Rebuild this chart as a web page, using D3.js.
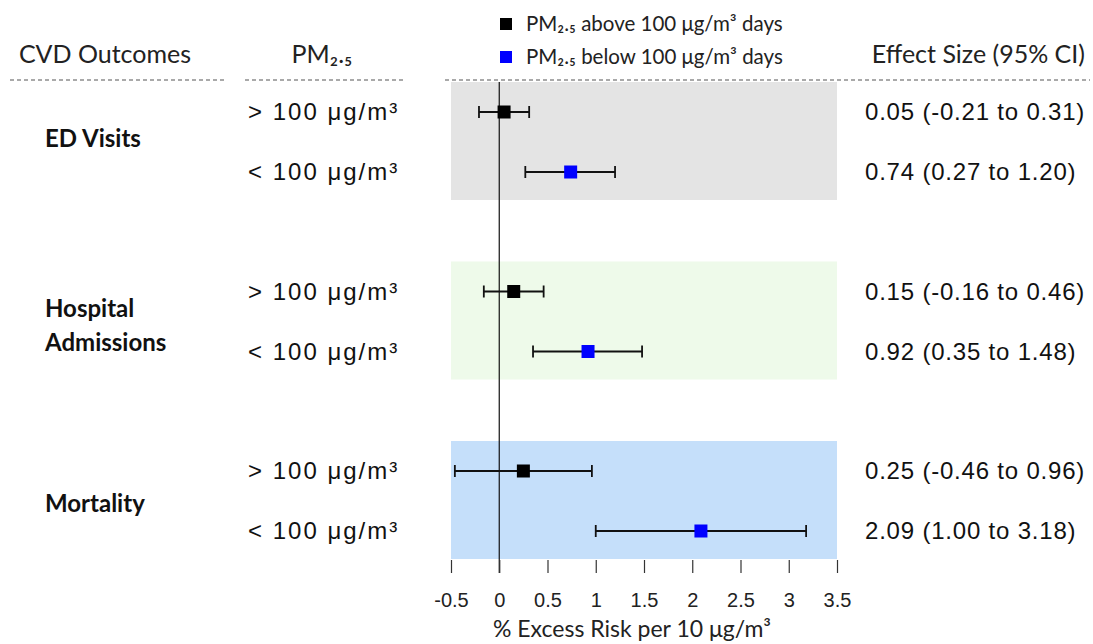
<!DOCTYPE html>
<html>
<head>
<meta charset="utf-8">
<script src="https://cdn.jsdelivr.net/npm/d3@7"></script>
<style>
  body { margin: 0; background: #fff; }
  .sans { font-family: "Liberation Sans", Arial, sans-serif; }
  .cal { font-family: Lato, "Open Sans", sans-serif; }
</style>
</head>
<body>
<svg width="1093" height="644"></svg>
<script>
// data
const outcomes = ["ED Visits", "Hospital Admissions", "Mortality"];
const groups = ["> 100 μg/m³", "< 100 μg/m³"];
const estimates = [[0.05, 0.74], [0.15, 0.92], [0.25, 2.09]];
const lowerCI = [[-0.21, 0.27], [-0.16, 0.35], [-0.46, 1.00]];
const upperCI = [[0.31, 1.20], [0.46, 1.48], [0.96, 3.18]];
const xTicks = [-0.5, 0, 0.5, 1, 1.5, 2, 2.5, 3, 3.5];
const legendLabels = ["PM₂.₅ above 100 μg/m³ days", "PM₂.₅ below 100 μg/m³ days"];

const panelColors = ["#e4e4e4", "#eefaea", "#c5dffa"];
const markColors = ["#000000", "#0000ff"];
const labelShift = [-4, 3.5, 2]; // small nudges of the outcome labels

const svg = d3.select("svg");

const x = d3.scaleLinear().domain([-0.5, 3.5]).range([451, 837]);
// two rows in each block, three blocks
const rowY = d3.scaleLinear().domain([0, 1]).range([112, 172]);
const blockY = d3.scaleLinear().domain([0, 2]).range([0, 359]);

const rows = [];
outcomes.forEach((o, i) => {
  groups.forEach((g, j) => {
    rows.push({ outcome: o, oi: i, group: g, gi: j,
      est: estimates[i][j], lo: lowerCI[i][j], hi: upperCI[i][j],
      y: blockY(i) + rowY(j) });
  });
});

// headers
svg.append("text").attr("class", "cal").attr("x", 105).attr("y", 63)
  .attr("text-anchor", "middle").attr("font-size", 25).attr("fill", "#222").text("CVD Outcomes");
svg.append("text").attr("class", "cal").attr("x", 322).attr("y", 63)
  .attr("text-anchor", "middle").attr("font-size", 25).attr("fill", "#222")
  .text("PM₂.₅");
svg.append("text").attr("class", "cal").attr("x", 1085).attr("y", 63)
  .attr("text-anchor", "end").attr("font-size", 25).attr("fill", "#222").text("Effect Size (95% CI)");

// dashed header rules
[[10, 225], [245, 405], [445, 1090]].forEach(s => {
  svg.append("line").attr("x1", s[0]).attr("x2", s[1]).attr("y1", 80).attr("y2", 80)
    .attr("stroke", "#555").attr("stroke-width", 1.2).attr("stroke-dasharray", "4,3");
});

// legend
const leg = svg.append("g");
legendLabels.forEach((l, i) => {
  leg.append("rect").attr("x", 500).attr("y", 18 + i * 33).attr("width", 12).attr("height", 12)
    .attr("fill", markColors[i]);
  leg.append("text").attr("class", "cal").attr("x", 526).attr("y", 31 + i * 33)
    .attr("font-size", 20.5).attr("fill", "#222").text(l);
});

// panels
outcomes.forEach((o, i) => {
  svg.append("rect").attr("x", x(-0.5)).attr("width", x(3.5) - x(-0.5))
    .attr("y", blockY(i) + 82).attr("height", 118).attr("fill", panelColors[i]);
});

// zero line
svg.append("line").attr("x1", x(0)).attr("x2", x(0)).attr("y1", 82).attr("y2", 573)
  .attr("stroke", "#111").attr("stroke-width", 1.2);

// axis
const axis = d3.axisBottom(x).tickValues(xTicks).tickSize(13).tickFormat(d => String(d));
const ax = svg.append("g").attr("transform", "translate(0,560)").call(axis);
ax.select(".domain").remove();
ax.selectAll(".tick line").attr("stroke", "#333").attr("stroke-width", 1.2);
ax.selectAll(".tick text").attr("class", "sans").attr("font-size", 20).attr("fill", "#222")
  .attr("y", 47).attr("dy", 0);
svg.append("text").attr("class", "cal").attr("x", 632).attr("y", 637)
  .attr("text-anchor", "middle").attr("font-size", 23).attr("fill", "#222").text("% Excess Risk per 10 μg/m³");

// outcome labels
outcomes.forEach((o, i) => {
  const words = o === "Hospital Admissions" ? ["Hospital", "Admissions"] : [o];
  const cy = blockY(i) + 142 + labelShift[i];
  words.forEach((w, k) => {
    svg.append("text").attr("class", "cal").attr("x", 45)
      .attr("y", cy + (k - (words.length - 1) / 2) * 34 + 8.5)
      .attr("font-size", 24).attr("font-weight", "bold").attr("fill", "#111").text(w);
  });
});

// rows
const rg = svg.selectAll("g.row").data(rows).enter().append("g").attr("class", "row");
rg.append("text").attr("class", "sans").attr("x", 248).attr("y", d => d.y + 8)
  .attr("font-size", 24).attr("fill", "#111").attr("letter-spacing", 2).text(d => d.group);
rg.append("text").attr("class", "sans").attr("x", 865).attr("y", d => d.y + 8)
  .attr("font-size", 24).attr("fill", "#111").attr("letter-spacing", 0.8)
  .text(d => `${d.est.toFixed(2)} (${d.lo.toFixed(2)} to ${d.hi.toFixed(2)})`);
rg.append("line").attr("x1", d => x(d.lo)).attr("x2", d => x(d.hi))
  .attr("y1", d => d.y).attr("y2", d => d.y).attr("stroke", "#111").attr("stroke-width", 1.8);
["lo", "hi"].forEach(k => {
  rg.append("line").attr("x1", d => x(d[k])).attr("x2", d => x(d[k]))
    .attr("y1", d => d.y - 6).attr("y2", d => d.y + 6).attr("stroke", "#111").attr("stroke-width", 1.8);
});
rg.append("rect").attr("x", d => x(d.est) - 6.5).attr("y", d => d.y - 6.5)
  .attr("width", 13).attr("height", 13).attr("fill", d => markColors[d.gi]);
</script>
</body>
</html>
